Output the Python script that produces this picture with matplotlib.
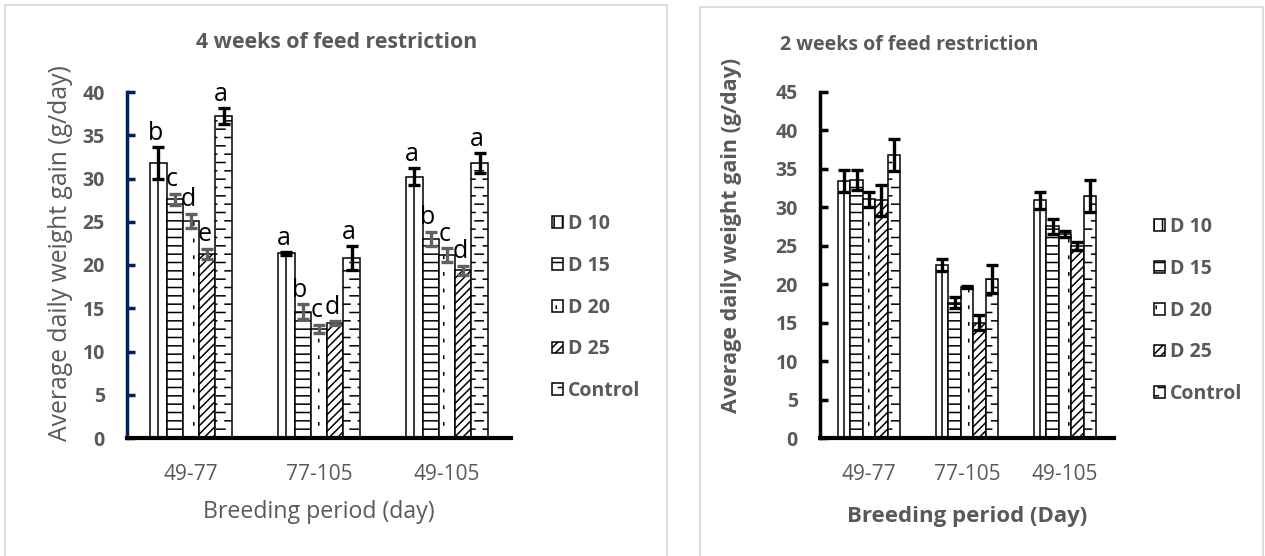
# Average daily weight gain for the feed restriction trials
# left: 4 weeks of restriction, right: 2 weeks of restriction

import warnings
import numpy as np
import matplotlib
matplotlib.use('Agg')
import matplotlib.pyplot as plt
import matplotlib.hatch as mhatch
from matplotlib.path import Path
from matplotlib.patches import Patch, Rectangle

warnings.filterwarnings('ignore')

periods = ['49-77', '77-105', '49-105']
series = ['D 10', 'D 15', 'D 20', 'D 25', 'Control']

# 4 weeks of feed restriction (mean, error)
d10_4w = [31.8, 21.35, 30.2]
d15_4w = [27.6, 14.6, 23.0]
d20_4w = [25.1, 12.6, 21.15]
d25_4w = [21.3, 13.3, 19.4]
ctrl_4w = [37.2, 20.8, 31.75]
d10_4w_err = [1.85, 0.15, 1.0]
d15_4w_err = [0.65, 0.9, 0.85]
d20_4w_err = [0.85, 0.5, 0.8]
d25_4w_err = [0.6, 0.2, 0.5]
ctrl_4w_err = [0.9, 1.35, 1.15]
d10_4w_let = ['b', 'a', 'a']
d15_4w_let = ['c', 'b', 'b']
d20_4w_let = ['d', 'c', 'c']
d25_4w_let = ['e', 'd', 'd']
ctrl_4w_let = ['a', 'a', 'a']

# 2 weeks of feed restriction
d10_2w = [33.4, 22.5, 30.9]
d15_2w = [33.5, 17.6, 27.5]
d20_2w = [31.0, 19.65, 26.55]
d25_2w = [30.9, 15.0, 24.95]
ctrl_2w = [36.8, 20.65, 31.45]
d10_2w_err = [1.4, 0.8, 1.1]
d15_2w_err = [1.3, 0.7, 0.95]
d20_2w_err = [0.95, 0.1, 0.4]
d25_2w_err = [2.0, 1.0, 0.5]
ctrl_2w_err = [2.1, 1.85, 2.05]


# excel style "dashed horizontal" fill for the Control bars ('d')
class DashedHorizontal(mhatch.HatchPatternBase):
    def __init__(self, hatch, density):
        n = hatch.count('d')
        self.rows = int(n * density * 2)
        self.cols = int(n * density)
        self.num_vertices = self.rows * self.cols * 2

    def set_vertices_and_codes(self, vertices, codes):
        k = 0
        for i in range(self.rows):
            y = (i + 0.5) / self.rows
            shift = 0.5 * (i % 2)
            for j in range(self.cols):
                x0 = (j + shift) / self.cols
                vertices[k] = (x0, y)
                vertices[k + 1] = (x0 + 0.5 / self.cols, y)
                codes[k] = Path.MOVETO
                codes[k + 1] = Path.LINETO
                k += 2


# sparse tiny dots for D 20 ('p')
class SparseDots(mhatch.HatchPatternBase):
    def __init__(self, hatch, density):
        n = hatch.count('p')
        self.rows = int(n * density)
        self.cols = int(n * density * 4 / 3)
        self.num_vertices = self.rows * self.cols * 2

    def set_vertices_and_codes(self, vertices, codes):
        k = 0
        for i in range(self.rows):
            for j in range(self.cols):
                x0 = (j + 0.5) / self.cols
                y0 = (i + 0.5) / self.rows
                vertices[k] = (x0, y0)
                vertices[k + 1] = (x0, y0 + 0.022)
                codes[k] = Path.MOVETO
                codes[k + 1] = Path.LINETO
                k += 2


mhatch._hatch_types.append(DashedHorizontal)
mhatch._hatch_types.append(SparseDots)

plt.rcParams['font.family'] = ['Open Sans', 'DejaVu Sans']
plt.rcParams['hatch.linewidth'] = 1.1
grey = '#595959'
hatches = [None, '--', 'p', '////', 'd']
legend_hatches = ['||', '--', 'p', '////', 'd']

W, H = 1265, 556
fig = plt.figure(figsize=(W / 100, H / 100), dpi=100)

# panel borders
fig.add_artist(Rectangle((5 / W, -0.02), 662 / W, 1.02 - 5 / H, transform=fig.transFigure,
                         fill=False, edgecolor='#d9d9d9', lw=1.3))
fig.add_artist(Rectangle((700 / W, -0.02), 563 / W, 1.02 - 7 / H, transform=fig.transFigure,
                         fill=False, edgecolor='#d9d9d9', lw=1.3))

ax1 = fig.add_axes([127 / W, 1 - 438 / H, 384 / W, 346 / H])
ax2 = fig.add_axes([820 / W, 1 - 438 / H, 294 / W, 346.3 / H])

x = np.arange(len(periods))
w = 0.127


def draw_bars(ax, vals, errs, ecolors):
    for k in range(len(series)):
        pos = x + (k - 2) * w
        ax.bar(pos, vals[k], w, facecolor='white', edgecolor='black', linewidth=1.1,
               hatch=hatches[k], zorder=2)
        if k == 0:
            ax.vlines(pos, 0, vals[k], color='black', lw=1.1, zorder=2)
        ax.errorbar(pos, vals[k], yerr=errs[k], fmt='none', ecolor=ecolors[k],
                    elinewidth=2.4, capsize=4.3, capthick=2.4, zorder=3)


vals4 = [d10_4w, d15_4w, d20_4w, d25_4w, ctrl_4w]
errs4 = [d10_4w_err, d15_4w_err, d20_4w_err, d25_4w_err, ctrl_4w_err]
lets4 = [d10_4w_let, d15_4w_let, d20_4w_let, d25_4w_let, ctrl_4w_let]
draw_bars(ax1, vals4, errs4, ['black', '#606060', '#606060', '#606060', 'black'])

for k in range(len(series)):
    for i in range(len(periods)):
        ax1.annotate(lets4[k][i], (x[i] + (k - 2) * w, vals4[k][i] + errs4[k][i]),
                     xytext=(-2, 1), textcoords='offset points', ha='center', va='bottom',
                     fontsize=18, color='black', zorder=4)

vals2 = [d10_2w, d15_2w, d20_2w, d25_2w, ctrl_2w]
errs2 = [d10_2w_err, d15_2w_err, d20_2w_err, d25_2w_err, ctrl_2w_err]
draw_bars(ax2, vals2, errs2, ['black'] * 5)

ax1.set_ylim(0, 40)
ax1.set_yticks(range(0, 41, 5))
ax2.set_ylim(0, 45)
ax2.set_yticks(range(0, 46, 5))

for ax, ycol in [(ax1, '#002060'), (ax2, 'black')]:
    ax.set_xlim(-0.5, 2.5)
    ax.set_xticks(x)
    ax.set_xticklabels(periods)
    ax.spines['top'].set_visible(False)
    ax.spines['right'].set_visible(False)
    ax.spines['left'].set_color(ycol)
    ax.spines['left'].set_linewidth(2.5)
    ax.spines['bottom'].set_linewidth(3)
    ax.tick_params(axis='y', direction='in', length=6, width=2.5, color=ycol,
                   pad=16, labelsize=14, labelcolor=grey)
    ax.tick_params(axis='x', length=0, pad=19, labelsize=15, labelcolor=grey)
    for t in ax.get_yticklabels():
        t.set_fontweight('bold')
    ax.patch.set_visible(False)

handles = [Patch(facecolor='white', edgecolor='black', lw=1.1, hatch=h) for h in legend_hatches]

ax1.set_ylabel('Average daily weight gain (g/day)', fontsize=17.8, color=grey)
ax1.yaxis.set_label_coords(-0.14, 0.535)
ax1.set_xlabel('Breeding period (day)', fontsize=16.7, color=grey)
ax1.xaxis.set_label_coords(0.5, -0.18)

ax2.set_ylabel('Average daily weight gain (g/day)', fontsize=15.5, color=grey, fontweight='bold')
ax2.yaxis.set_label_coords(-0.265, 0.586)
ax2.set_xlabel('Breeding period (Day)', fontsize=16, color=grey, fontweight='bold')
ax2.xaxis.set_label_coords(0.5, -0.195)

fig.text(337 / W, 1 - 42 / H, '4 weeks of feed restriction', ha='center', va='center',
         fontsize=15.3, fontweight='bold', color=grey)
fig.text(909 / W, 1 - 45 / H, '2 weeks of feed restriction', ha='center', va='center',
         fontsize=14, fontweight='bold', color=grey)

leg_kw = dict(loc='upper left', bbox_transform=fig.transFigure, frameon=False,
              prop=dict(weight='bold', size=14), labelcolor=grey, handlelength=0.55,
              handleheight=0.55, handletextpad=0.25, labelspacing=1.12, borderpad=0,
              borderaxespad=0)
ax1.legend(handles, series, bbox_to_anchor=(552 / W, 1 - 214 / H), **leg_kw)
ax2.legend(handles, series, bbox_to_anchor=(1154 / W, 1 - 217 / H), **leg_kw)

fig.savefig('out.png', dpi=100)
